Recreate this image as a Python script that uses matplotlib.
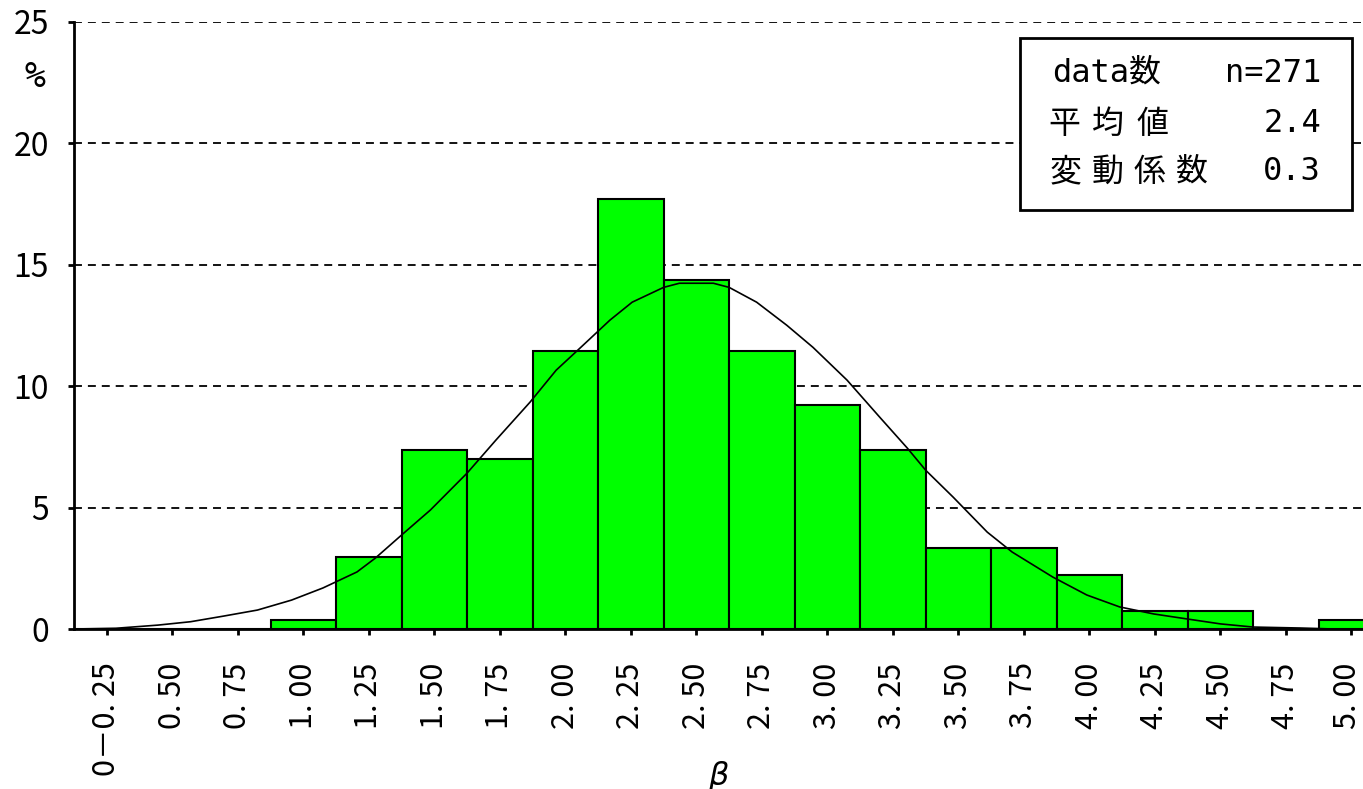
import numpy as np
import matplotlib
matplotlib.use('Agg')
import matplotlib.pyplot as plt
import matplotlib.transforms as mtransforms
from matplotlib.patches import Rectangle

plt.rcParams['font.family'] = ['Noto Sans CJK JP', 'DejaVu Sans']
MONO = ['DejaVu Sans Mono', 'Noto Sans CJK JP']

# category labels (upper bound of each 0.25-wide bin of beta)
categories = ['0－0. 25', '0. 50', '0. 75', '1. 00', '1. 25', '1. 50', '1. 75',
              '2. 00', '2. 25', '2. 50', '2. 75', '3. 00', '3. 25', '3. 50',
              '3. 75', '4. 00', '4. 25', '4. 50', '4. 75', '5. 00']
# relative frequency (%)
freq_pct = [0, 0, 0, 0.37, 2.95, 7.38, 7.01, 11.44, 17.71, 14.39, 11.44,
            9.23, 7.38, 3.32, 3.32, 2.21, 0.74, 0.74, 0, 0.37]

# fitted normal curve (beta, %)
curve_beta = [0.0, 0.16, 0.32, 0.445, 0.57, 0.70, 0.83, 0.95, 1.08, 1.15, 1.25,
              1.36, 1.50, 1.61, 1.74, 1.84, 1.93, 2.045, 2.13, 2.25, 2.31, 2.44,
              2.50, 2.605, 2.72, 2.82, 2.95, 3.075, 3.18, 3.25, 3.355, 3.485,
              3.58, 3.735, 3.865, 3.99, 4.12, 4.25, 4.375, 4.50, 4.68, 4.805]
curve_pct = [0.0, 0.03, 0.16, 0.30, 0.53, 0.78, 1.19, 1.69, 2.35, 2.92, 3.87,
             4.90, 6.42, 7.78, 9.34, 10.66, 11.56, 12.72, 13.46, 14.07, 14.24,
             14.24, 14.07, 13.46, 12.51, 11.6, 10.25, 8.72, 7.45, 6.54, 5.43,
             3.99, 3.17, 2.14, 1.40, 0.91, 0.62, 0.41, 0.21, 0.08, 0.04, 0.0]

stats_labels = ['data数', '平均値', '変動係数']
stats_values = ['n=271', '2.4', '0.3']

W, H = 1363, 789
fig = plt.figure(figsize=(W / 100, H / 100), dpi=100)
ax = fig.add_axes([74 / W, 1 - 629 / H, 1 - 74 / W, (629 - 22) / H])

x = np.arange(len(categories))
ax.bar(x, freq_pct, width=1.0, color='#00ff00', edgecolor='black', linewidth=1.5, zorder=2)

# bin of category i is centred at 0.25*i + 0.125
curve_x = (np.array(curve_beta) - 0.125) / 0.25
ax.plot(curve_x, curve_pct, color='black', linewidth=1.2, zorder=3)

ax.set_xlim(-0.5, (W - 107) / 65.5)
ax.set_ylim(0, 25)
ax.set_yticks([0, 5, 10, 15, 20, 25])
ax.set_xticks(x)
ax.set_xticklabels(categories, rotation=90, fontsize=22)
ax.tick_params(axis='y', labelsize=23, length=4, width=2, pad=14)
ax.tick_params(axis='x', length=4, width=2, pad=20, direction='out')
for lbl in ax.get_xticklabels():
    lbl.set_verticalalignment('top')
# last label sits right at the figure edge, nudge it in a little
last = ax.get_xticklabels()[-1]
last.set_transform(last.get_transform() +
                   mtransforms.ScaledTranslation(-4 / 100, 0, fig.dpi_scale_trans))

ax.yaxis.grid(True, color='black', linestyle=(0, (4.4, 3.3)), linewidth=1.3)
ax.set_axisbelow(True)
for s in ['top', 'right']:
    ax.spines[s].set_visible(False)
ax.spines['left'].set_linewidth(2)
ax.spines['bottom'].set_linewidth(2)

fig.text(35 / W, 1 - 77 / H, '%', fontsize=25, ha='center', va='center', family=MONO)
fig.text(718 / W, 1 - 776 / H, 'β', fontsize=23, style='italic', ha='center', va='center',
         family=['DejaVu Sans'])

# stats box
fig.patches.append(Rectangle((1020 / W, 1 - 210 / H), (1352 - 1020) / W, (210 - 38) / H,
                             transform=fig.transFigure, facecolor='white',
                             edgecolor='black', linewidth=2, zorder=5))
row_y = [73, 124, 172]
# first row: latin letters in a monospace face
fig.text(1052 / W, 1 - row_y[0] / H, stats_labels[0], fontsize=23, ha='left',
         va='center', family=MONO, zorder=6)
# kanji rows are letter-spaced
for lab, start, pitch, ry in [(stats_labels[1], 1064, 44, row_y[1]),
                              (stats_labels[2], 1066, 42, row_y[2])]:
    for i, ch in enumerate(lab):
        fig.text((start + i * pitch) / W, 1 - ry / H, ch, fontsize=23, ha='center',
                 va='center', zorder=6)
for val, ry in zip(stats_values, row_y):
    fig.text(1321 / W, 1 - ry / H, val, fontsize=23, ha='right', va='center',
             family=MONO, zorder=6)

fig.savefig('out.png', dpi=100)
